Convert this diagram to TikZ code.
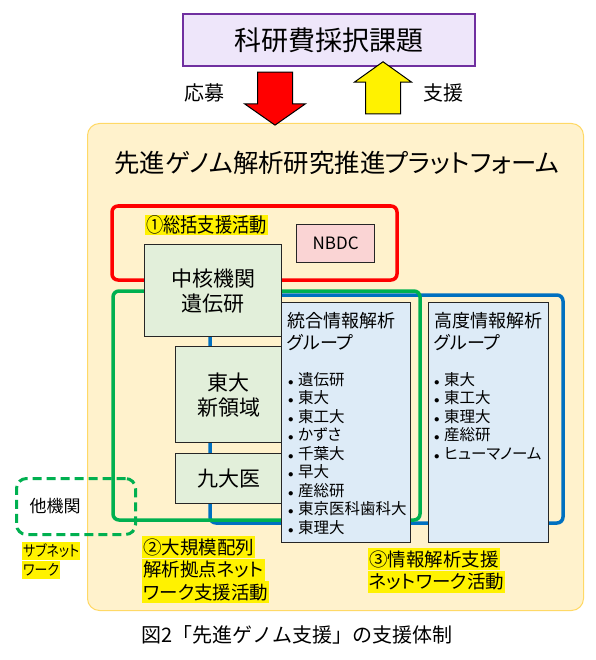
\documentclass[tikz,border=0pt]{standalone}
\usepackage{fontspec}
\setmainfont{Noto Sans CJK JP}[RawFeature=+palt]
\newfontfamily\capfont{Noto Sans CJK JP}
\newfontfamily\narrowfont{Noto Sans CJK JP}[RawFeature=+palt, FakeStretch=0.86]
\usetikzlibrary{shapes.arrows, positioning}
\definecolor{kakenfill}{HTML}{EEE6FA}
\definecolor{kakenline}{HTML}{7030A0}
\definecolor{platfill}{HTML}{FFF2CC}
\definecolor{platline}{HTML}{FFD966}
\definecolor{orgfill}{HTML}{E2EFDA}
\definecolor{grpfill}{HTML}{DDEBF7}
\definecolor{nbdcfill}{HTML}{FAD4D4}
\definecolor{boxline}{HTML}{262626}
\definecolor{loopblue}{HTML}{0070C0}
\definecolor{loopgreen}{HTML}{00B050}
\definecolor{loopred}{HTML}{FF0000}
\newcommand{\listdot}{\makebox[10pt][l]{\fontsize{11}{11}\selectfont$\bullet$}}

\begin{document}
\begin{tikzpicture}[x=1pt, y=1pt,
    orgbox/.style={draw=boxline, line width=1.2pt, fill=orgfill, align=center, inner sep=0pt, anchor=north west},
    grpbox/.style={draw=boxline, line width=1.2pt, fill=grpfill, inner sep=0pt, anchor=north west},
    hlline/.style={fill=yellow, inner xsep=1pt, inner ysep=0pt, anchor=north west},
    loopline/.style={line width=3.5pt, rounded corners=6pt},
    blockarrow/.style={single arrow, draw=black, line width=1pt, inner xsep=0pt, inner ysep=17pt, single arrow head extend=#1}]
    \useasboundingbox (0,0) rectangle (595,-660);

    % platform and call
    \node[draw=platline, line width=1pt, fill=platfill, rounded corners=12pt, anchor=north west, minimum width=496pt, minimum height=487pt] (platform) at (87,-123) {};
    \node[font=\fontsize{25.4}{30}\selectfont] (platname) at (337,-163) {先進ゲノム解析研究推進プラットフォーム};
    \node[draw=kakenline, line width=1.2pt, fill=kakenfill, minimum width=292pt, minimum height=52pt, font=\fontsize{27}{32}\selectfont] (kaken) at (329,-40) {科研費採択課題};

    \node[blockarrow=13pt, fill=red, minimum height=53pt, single arrow tip angle=110, rotate=-90] (apply) at (275,-92.5) {};
    \node[blockarrow=11pt, fill=yellow, minimum height=52pt, single arrow tip angle=109, rotate=90] (support) at (383,-94) {};
    \node[font=\fontsize{20}{24}\selectfont] (applylabel) at (204,-93) {応募};
    \node[font=\fontsize{20}{24}\selectfont] (supportlabel) at (443,-93) {支援};

    % activity loops
    \draw[loopline, draw=loopblue] (210,-295) rectangle (563,-523);
    \draw[loopline, draw=loopgreen] (113,-291) rectangle (420,-520);
    \draw[loopline, draw=loopred] (112,-206) rectangle (397,-280);
    \node[draw=loopgreen, line width=3pt, dash pattern=on 9pt off 5pt, rounded corners=10pt, anchor=north west, minimum width=119pt, minimum height=56pt] (other) at (15,-477) {};
    \node[font=\fontsize{17}{20}\selectfont] (otherlabel) at (55,-506) {他機関};

    % organisations
    \node[orgbox, minimum width=137pt, minimum height=92pt, font=\fontsize{21}{25}\selectfont] (core) at (144,-244) {中核機関\\遺伝研};
    \node[orgbox, minimum width=106pt, minimum height=96pt, font=\fontsize{21}{25}\selectfont] (utokyo) at (175,-346) {東大\\新領域};
    \node[orgbox, minimum width=106pt, minimum height=50pt, font=\fontsize{21}{25}\selectfont] (kyushu) at (175,-453) {九大医};
    \node[draw=boxline, line width=1.2pt, fill=nbdcfill, anchor=north west, minimum width=78pt, minimum height=38pt, font=\fontsize{17}{20}\selectfont] (nbdc) at (296,-224) {NBDC};

    \node[grpbox, minimum width=129pt, minimum height=240pt] (integ) at (281,-302) {};
    \node[grpbox, minimum width=120pt, minimum height=240pt] (advan) at (428,-302) {};
    \node[anchor=north west, align=left, inner sep=0pt, font=\fontsize{18}{22}\selectfont] (integname) at (287,-312) {統合情報解析\\グループ};
    \node[anchor=north west, align=left, inner sep=0pt, font=\fontsize{18}{22}\selectfont] (advanname) at (434,-312) {高度情報解析\\グループ};
    \node[anchor=north west, align=left, inner sep=0pt, font=\fontsize{15.5}{18.5}\selectfont] (integlist) at (288,-372)
        {\listdot 遺伝研\\\listdot 東大\\\listdot 東工大\\\listdot かずさ\\\listdot 千葉大\\\listdot 早大\\\listdot 産総研\\\listdot 東京医科歯科大\\\listdot 東理大};
    \node[anchor=north west, align=left, inner sep=0pt, font=\fontsize{15.5}{18.5}\selectfont] (advanlist) at (434,-372)
        {\listdot 東大\\\listdot 東工大\\\listdot 東理大\\\listdot 産総研\\\listdot ヒューマノーム};

    % highlighted captions
    \node[hlline, text height=17pt, text depth=3pt, font=\narrowfont\fontsize{20}{24}\selectfont] (lineone) at (145,-215) {①総括支援活動};
    \node[hlline, text height=18pt, text depth=4pt, font=\fontsize{18.5}{22}\selectfont] (seqa) at (142,-536) {②大規模配列};
    \node[hlline, text height=18pt, text depth=4pt, font=\fontsize{18.5}{22}\selectfont] (seqb) at (seqa.south west) {解析拠点ネット};
    \node[hlline, text height=18pt, text depth=4pt, font=\fontsize{18.5}{22}\selectfont] (seqc) at (seqb.south west) {ワーク支援活動};
    \node[hlline, text height=18pt, text depth=4pt, font=\fontsize{18.5}{22}\selectfont] (infoa) at (368,-548) {③情報解析支援};
    \node[hlline, text height=18pt, text depth=4pt, font=\fontsize{18.5}{22}\selectfont] (infob) at (infoa.south west) {ネットワーク活動};
    \node[hlline, text height=14.5pt, text depth=3.5pt, font=\narrowfont\fontsize{15}{18}\selectfont] (suba) at (22,-542) {サブネット};
    \node[hlline, text height=14.5pt, text depth=3.5pt, font=\narrowfont\fontsize{15}{18}\selectfont] (subb) at (suba.south west) {ワーク};

    \node[font={\capfont\fontsize{20}{24}\selectfont}] (caption) at (297,-635) {図2「先進ゲノム支援」の支援体制};
\end{tikzpicture}
\end{document}
